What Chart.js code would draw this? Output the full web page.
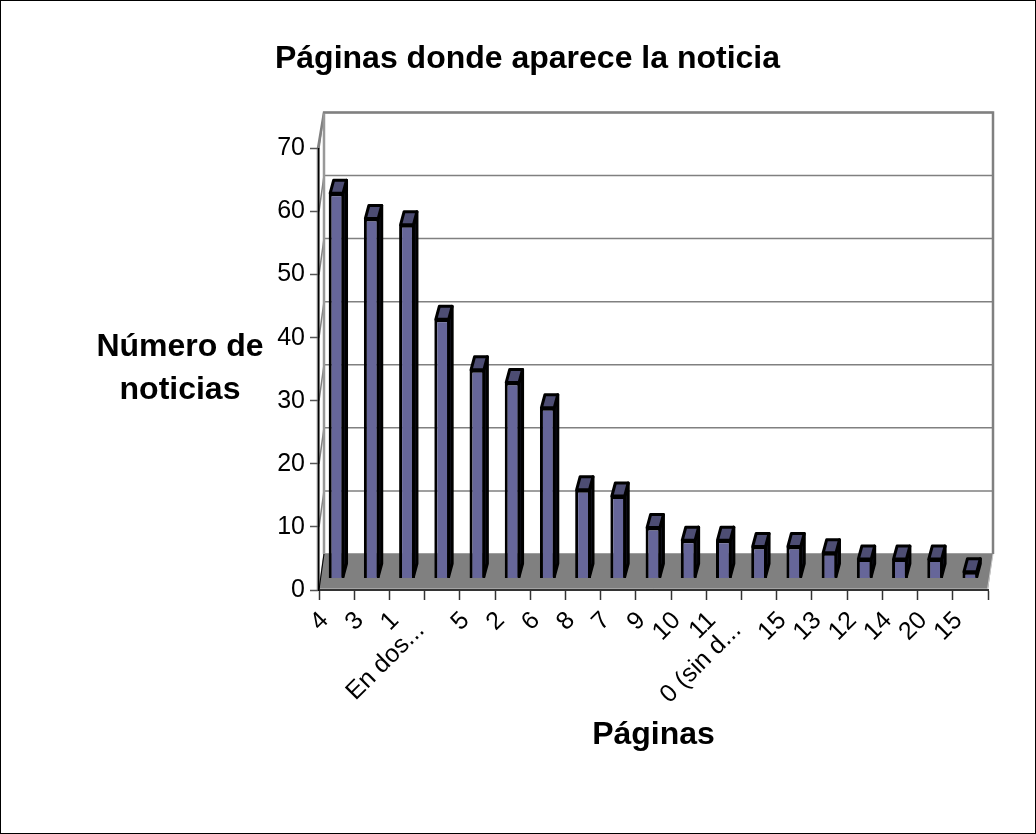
<!DOCTYPE html>
<html>
<head>
<meta charset="utf-8">
<style>html,body{margin:0;padding:0;background:#fff}canvas{display:block}</style>
<script src="https://cdn.jsdelivr.net/npm/chart.js@4/dist/chart.umd.min.js"></script>
</head>
<body>
<div style="width:1036px;height:834px"><canvas id="c" width="1036" height="834"></canvas></div>
<script>
const categories = ['4','3','1','En dos...','5','2','6','8','7','9','10','11','0 (sin d...','15','13','12','14','20','15'];
const noticias = [61,57,56,41,33,31,27,14,13,8,6,6,5,5,4,3,3,3,1];
const yTickValues = [0,10,20,30,40,50,60,70];
const chartTitle = 'Páginas donde aparece la noticia';
const xTitle = 'Páginas';
const yTitleLines = ['Número de','noticias'];

const FONT = '"Liberation Sans", Arial, sans-serif';
const BACK_DX = 5, BACK_DY = 36;
const BAR_DX = 3.5, BAR_DY = 13, BAR_STROKE = 3;

const scene3d = {
  id: 'scene3d',
  beforeDraw(chart) {
    const { ctx, chartArea: a, scales } = chart;
    const y = scales.y;
    ctx.save();
    // frame
    ctx.strokeStyle = '#000'; ctx.lineWidth = 1;
    ctx.strokeRect(0.5, 0.5, chart.width - 1, chart.height - 1);
    // wall gridlines
    ctx.strokeStyle = '#808080'; ctx.lineWidth = 1.5;
    yTickValues.forEach(v => {
      const p = y.getPixelForValue(v);
      ctx.beginPath();
      ctx.moveTo(a.left, p);
      ctx.lineTo(a.left + BACK_DX, p - BACK_DY);
      ctx.lineTo(a.right + BACK_DX, p - BACK_DY);
      ctx.stroke();
    });
    // wall outline
    ctx.lineWidth = 2.5;
    ctx.beginPath();
    ctx.moveTo(a.left - 1, a.bottom);
    ctx.lineTo(a.left - 1, a.top);
    ctx.lineTo(a.left + BACK_DX, a.top - BACK_DY);
    ctx.lineTo(a.right + BACK_DX, a.top - BACK_DY);
    ctx.lineTo(a.right + BACK_DX, a.bottom - BACK_DY);
    ctx.stroke();
    ctx.strokeStyle = '#999'; ctx.lineWidth = 2.5;
    ctx.beginPath();
    ctx.moveTo(a.left + BACK_DX, a.bottom - BACK_DY);
    ctx.lineTo(a.left + BACK_DX, a.top - BACK_DY + 1);
    ctx.stroke();
    // floor
    ctx.fillStyle = '#808080';
    ctx.beginPath();
    ctx.moveTo(a.left, a.bottom);
    ctx.lineTo(a.left + BACK_DX, a.bottom - BACK_DY);
    ctx.lineTo(a.right + BACK_DX, a.bottom - BACK_DY);
    ctx.lineTo(a.right, a.bottom);
    ctx.closePath();
    ctx.fill();
    ctx.strokeStyle = '#c8c8c8'; ctx.lineWidth = 1;
    ctx.beginPath();
    ctx.moveTo(a.right, a.bottom - 1);
    ctx.lineTo(a.left, a.bottom - 1);
    ctx.moveTo(a.right - 0.5, a.bottom - 1);
    ctx.lineTo(a.right + BACK_DX, a.bottom - BACK_DY);
    ctx.stroke();
    ctx.strokeStyle = '#000'; ctx.lineWidth = 1;
    ctx.beginPath();
    ctx.moveTo(a.left, a.bottom);
    ctx.lineTo(a.left + BACK_DX, a.bottom - BACK_DY);
    ctx.stroke();
    // y axis title (horizontal)
    ctx.fillStyle = '#000';
    ctx.font = 'bold 32px ' + FONT;
    ctx.textAlign = 'center'; ctx.textBaseline = 'middle';
    ctx.fillText(yTitleLines[0], 180, 347);
    ctx.fillText(yTitleLines[1], 180, 390);
    ctx.restore();
  },
  afterDatasetDraw(chart, args) {
    const { ctx } = chart;
    const meta = chart.getDatasetMeta(args.index);
    const inset = BAR_STROKE / 2;
    ctx.save();
    ctx.lineWidth = BAR_STROKE; ctx.strokeStyle = '#000'; ctx.lineJoin = 'round';
    meta.data.forEach(el => {
      const { x, y, base, width } = el.getProps(['x','y','base','width'], true);
      const l = x - width / 2 + inset, r = x + width / 2 - inset;
      const t = y, b = base - inset;
      // side face
      ctx.fillStyle = '#1a1a2b';
      ctx.beginPath();
      ctx.moveTo(r, t); ctx.lineTo(r + BAR_DX, t - BAR_DY);
      ctx.lineTo(r + BAR_DX, b - BAR_DY); ctx.lineTo(r, b);
      ctx.closePath(); ctx.fill(); ctx.stroke();
      // top face
      ctx.fillStyle = '#4d4d73';
      ctx.beginPath();
      ctx.moveTo(l, t); ctx.lineTo(l + BAR_DX, t - BAR_DY);
      ctx.lineTo(r + BAR_DX, t - BAR_DY); ctx.lineTo(r, t);
      ctx.closePath(); ctx.fill(); ctx.stroke();
    });
    ctx.restore();
  }
};

new Chart(document.getElementById('c'), {
  type: 'bar',
  data: {
    labels: categories,
    datasets: [{
      label: 'Número de noticias',
      data: noticias,
      yAxisID: 'yBars',
      backgroundColor: '#666699',
      borderColor: '#000',
      borderWidth: BAR_STROKE,
      barPercentage: 0.45,
      categoryPercentage: 1
    }]
  },
  plugins: [scene3d],
  options: {
    responsive: false,
    animation: false,
    devicePixelRatio: 1,
    layout: { padding: { left: 67, right: 48, top: 0, bottom: 0 } },
    plugins: {
      legend: { display: false },
      tooltip: { enabled: false },
      title: {
        display: true,
        text: chartTitle,
        color: '#000',
        font: { family: FONT, size: 32, weight: 'bold', lineHeight: 1.2 },
        padding: { top: 40, bottom: 70 }
      }
    },
    scales: {
      x: {
        type: 'category',
        offset: true,
        afterFit(s) { s.height = 244; },
        border: { display: true, color: '#333', width: 2 },
        grid: { display: true, offset: true, drawOnChartArea: false, drawTicks: true, tickLength: 10, color: '#333', tickWidth: 1.5 },
        ticks: {
          color: '#000',
          font: { family: FONT, size: 25 },
          maxRotation: 45, minRotation: 45,
          autoSkip: false,
          labelOffset: -12,
          padding: 6,
          // long labels sit further down their slant, as in the source chart
          callback(value) {
            const label = this.getLabelForValue(value);
            return label.length > 4 ? label + '  ' : label;
          }
        },
        title: {
          display: true,
          text: xTitle,
          color: '#000',
          font: { family: FONT, size: 32, weight: 'bold' },
          padding: { top: 0, bottom: 80 }
        }
      },
      y: {
        type: 'linear',
        min: 0, max: 70,
        afterFit(s) { s.width = 252; },
        afterBuildTicks(s) { s.ticks = yTickValues.map(value => ({ value })); },
        border: { display: true, color: '#000', width: 1.5 },
        grid: { display: true, drawOnChartArea: false, drawTicks: true, tickLength: 9, color: '#555', tickWidth: 1.5 },
        ticks: {
          color: '#000',
          font: { family: FONT, size: 25 },
          padding: 5
        }
      },
      yBars: {
        type: 'linear',
        display: false,
        min: -12 / 6.31,
        max: 70 - 12 / 6.31
      }
    }
  }
});
</script>
</body>
</html>
